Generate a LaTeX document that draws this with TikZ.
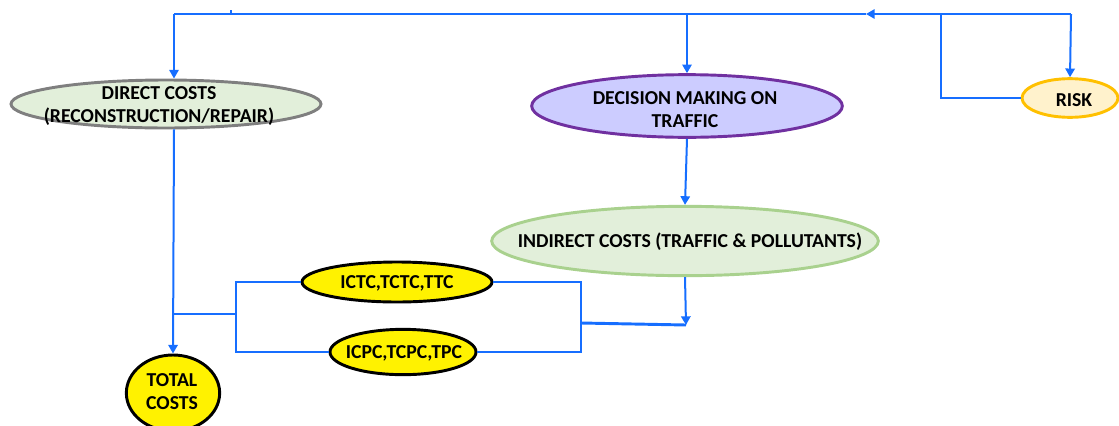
\documentclass[tikz,border=0pt]{standalone}
\usepackage{fontspec}
\setmainfont{Carlito}
\usetikzlibrary{shapes.geometric,arrows.meta}
\definecolor{flowblue}{RGB}{22,110,255}
\definecolor{directfill}{RGB}{226,239,218}
\definecolor{directdraw}{RGB}{127,127,127}
\definecolor{decfill}{RGB}{204,204,255}
\definecolor{decdraw}{RGB}{112,48,160}
\definecolor{riskfill}{RGB}{255,242,204}
\definecolor{riskdraw}{RGB}{255,192,0}
\definecolor{indirdraw}{RGB}{169,209,142}
\begin{document}
\begin{tikzpicture}[x=0.75pt,y=-0.75pt,
  blob/.style={ellipse,inner sep=0pt,line width=2.2pt},
  yellowblob/.style={blob,fill=yellow,draw=black},
  caption/.style={inner sep=0pt,align=center,
    font=\bfseries\fontsize{14.8}{17.3}\selectfont},
  flow/.style={draw=flowblue,line width=1.5pt},
  arr/.style={-{Triangle[length=6.5pt,width=7pt]}}]
\useasboundingbox (0,0) rectangle (1119,425);

% cost and decision shapes
\node[blob,fill=directfill,draw=directdraw,minimum width=232.5pt,minimum height=36pt]
  (direct) at (166,104) {};
\node[blob,fill=decfill,draw=decdraw,minimum width=233pt,minimum height=47pt]
  (decision) at (687,106) {};
\node[blob,fill=riskfill,draw=riskdraw,minimum width=72pt,minimum height=29pt]
  (risk) at (1070,98) {};
\node[blob,fill=directfill,draw=indirdraw,minimum width=290pt,minimum height=52pt]
  (indirect) at (685,241) {};
\node[yellowblob,minimum width=142.5pt,minimum height=30pt]
  (ictc) at (397,282) {};
\node[yellowblob,minimum width=109.5pt,minimum height=34pt]
  (icpc) at (403,352) {};
\node[yellowblob,minimum width=70pt,minimum height=57pt]
  (total) at (173,393) {};

% their captions
\node[caption] (direct-t) at (159,106) {DIRECT COSTS\\(RECONSTRUCTION/REPAIR)};
\node[caption] (decision-t) at (685,110) {DECISION MAKING ON\\TRAFFIC};
\node[caption] (risk-t) at (1074,100) {RISK};
\node[caption] (indirect-t) at (690,242) {INDIRECT COSTS (TRAFFIC \& POLLUTANTS)};
\node[caption] (ictc-t) at (397,283) {ICTC,TCTC,TTC};
\node[caption] (icpc-t) at (404,353) {ICPC,TCPC,TPC};
\node[caption] (total-t) at (172,392) {TOTAL\\COSTS};

% junction points of the connectors
\coordinate (tl) at (174,14);
\coordinate (tick) at (231,10);
\coordinate (tickb) at (231,14);
\coordinate (tm) at (687,14);
\coordinate (ta) at (866,14);
\coordinate (tj) at (941,14);
\coordinate (tr) at (1071,14);
\coordinate (rx) at (581,323);
\coordinate (ie) at (686,325);
\coordinate (lx) at (236,314);

% feedback loop along the top
\draw[flow] (risk.west) -| (tj) -- (tr);
\draw[flow,arr] (tj) -- (ta);
\draw[flow] (ta) -- (tl);
\draw[flow,line width=1pt] (tick) -- (tickb);
\draw[flow,arr] (tl) -- (direct.north -| tl);
\draw[flow,arr] (tm) -- (decision.north);
\draw[flow,arr] (tr) -- (risk.north);

% traffic branch
\draw[flow,arr] (decision.south) -- (indirect.north);
\draw[flow,arr] (indirect.south) -- (ie);
\draw[flow,line width=2.2pt] (rx) -- (ie);
\draw[flow] (ictc.east) -| (rx) |- (icpc.east);

% collection into total costs
\draw[flow] (ictc.west) -| (lx) |- (icpc.west);
\draw[flow] (lx) -- (lx -| tl);
\draw[flow,arr] (direct.south -| tl) -- (total.north);
\end{tikzpicture}
\end{document}
